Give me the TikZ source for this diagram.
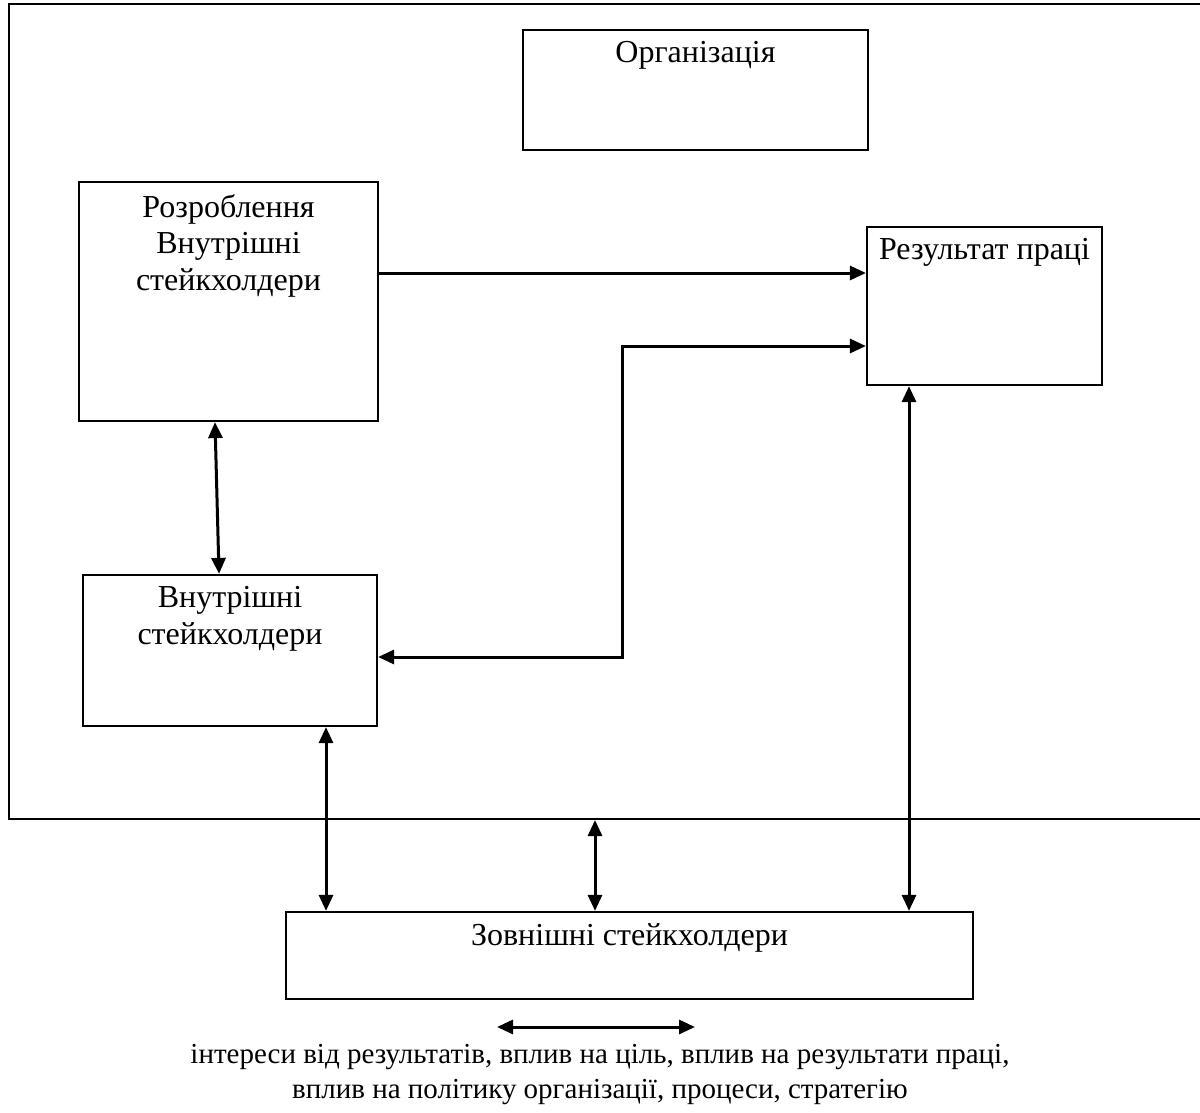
\documentclass[tikz,border=0pt]{standalone}
\usepackage{fontspec}
\setmainfont{Liberation Serif}
\usetikzlibrary{positioning,arrows.meta}

\tikzset{
  box/.style={draw, line width=2.2pt, inner sep=0pt},
  boxtext/.style={inner sep=0pt, align=center, font=\fontsize{32}{36.8}\selectfont},
  notetext/.style={inner sep=0pt, align=center, font=\fontsize{29}{35}\selectfont},
  tip/.style={-{Triangle[length=16pt,width=14pt]}},
  onelink/.style={line width=3pt, tip},
  link/.style={line width=3pt, {Triangle[length=16pt,width=14pt]}-{Triangle[length=16pt,width=14pt]}}
}

\begin{document}
\begin{tikzpicture}[x=1pt,y=-1pt]
  \clip (0,0) rectangle (1200,1113);

  \node[box, line width=2pt, minimum width=1220, minimum height=815] (Frame) at (619,411.5) {};

  \node[box, minimum width=345, minimum height=120] (Org) at (695.5,90) {};
  \node[boxtext, below=12pt of Org.north] (OrgText) {Організація};

  \node[box, minimum width=299, minimum height=239] (Dev) at (228.5,301.5) {};
  \node[boxtext, below=13pt of Dev.north] (DevText) {Розроблення\\Внутрішні\\стейкхолдери};

  \node[box, minimum width=235, minimum height=158] (Result) at (984.5,306) {};
  \node[boxtext, below=12pt of Result.north] (ResultText) {Результат праці};

  \node[box, minimum width=294, minimum height=151] (Inner) at (230,650.5) {};
  \node[boxtext, below=12pt of Inner.north] (InnerText) {Внутрішні\\стейкхолдери};

  \node[box, minimum width=687, minimum height=87] (Outer) at (629.5,955.5) {};
  \node[boxtext, below=12pt of Outer.north] (OuterText) {Зовнішні стейкхолдери};

  \node[notetext, anchor=north] (Note) at (600,1044)
    {інтереси від результатів, вплив на ціль, вплив на результати праці,\\вплив на політику організації, процеси, стратегію};

  \coordinate (FrameLink) at ([xshift=-24pt]Frame.south);
  \coordinate (NoteL) at (497,1027);
  \coordinate (NoteR) at (695,1027);

  \draw[onelink] ([yshift=28.5pt]Dev.east) -- ([yshift=33pt]Result.west);
  \draw[link] ([yshift=-6.5pt]Inner.east) -- ++(244,0) |- ([yshift=-40pt]Result.west);
  \draw[link] ([xshift=-13.5pt]Dev.south) -- ([xshift=-11pt]Inner.north);
  \draw[link] ([xshift=96pt]Inner.south) -- ([xshift=96pt]Inner.south |- Outer.north);
  \draw[link] (FrameLink) -- (FrameLink |- Outer.north);
  \draw[link] ([xshift=-75.5pt]Result.south) -- ([xshift=-75.5pt]Result.south |- Outer.north);
  \draw[link] (NoteL) -- (NoteR);
\end{tikzpicture}
\end{document}
